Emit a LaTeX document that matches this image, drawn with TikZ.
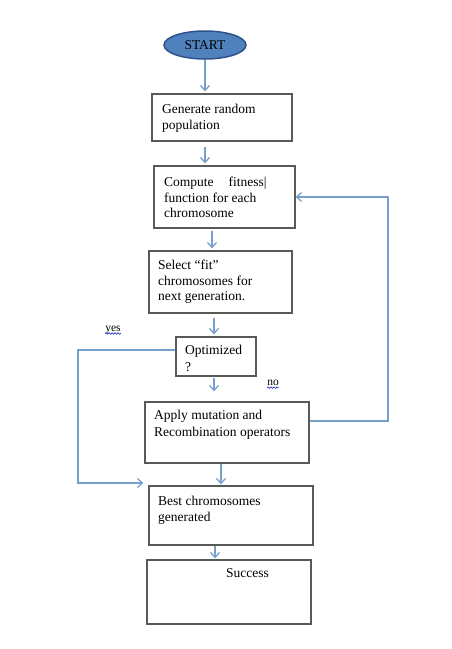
\documentclass[tikz,border=0pt]{standalone}
\usepackage{fontspec}
\setmainfont{Liberation Serif}
\usetikzlibrary{arrows.meta,shapes.geometric,decorations.pathmorphing}
\definecolor{arrowblue}{RGB}{120,160,205}
\definecolor{spellblue}{RGB}{50,60,200}
\definecolor{startfill}{RGB}{79,129,189}
\definecolor{startdraw}{RGB}{47,82,143}
\tikzset{
  box/.style={draw=black!65, line width=1.2pt, rectangle, inner sep=0pt},
  txt/.style={anchor=north west, align=left, inner sep=0pt, font=\fontsize{13.5}{15.5}\selectfont},
  arr/.style={draw=arrowblue, line width=1.3pt, -{Straight Barb[length=5pt,width=9pt]}},
  lbl/.style={inner sep=0pt, font=\fontsize{11.5}{12}\selectfont},
  squig/.style={draw=spellblue, line width=0.7pt, decorate, decoration={snake, amplitude=0.8pt, segment length=3pt}}
}
\begin{document}
\begin{tikzpicture}[x=1pt,y=-1pt]
\useasboundingbox (0,0) rectangle (451,649);
% start
\node[ellipse, draw=startdraw, fill=startfill, line width=1.5pt, minimum width=82pt, minimum height=28pt, inner sep=0pt, font=\fontsize{13.5}{15}\selectfont] (start) at (205,45) {START};
% boxes
\node[box, minimum width=140pt, minimum height=47pt] (gen) at (222,117.5) {};
\node[box, minimum width=141pt, minimum height=62pt] (comp) at (224.5,197) {};
\node[box, minimum width=143pt, minimum height=62pt] (sel) at (220.5,282) {};
\node[box, minimum width=80pt, minimum height=39pt] (opt) at (216,356.5) {};
\node[box, minimum width=164pt, minimum height=61pt] (app) at (227,432.5) {};
\node[box, minimum width=164pt, minimum height=59pt] (best) at (231,515.5) {};
\node[box, minimum width=164pt, minimum height=64pt] (succ) at (229,592) {};
% texts
\node[txt] (tgen) at (162,104) {Generate random\\population};
\node[txt] (tcomp) at (164,177) {Compute\hspace{1.1em}fitness|\\function for each\\chromosome};
\node[txt] (tsel) at (158,260) {Select “fit”\\chromosomes for\\next generation.};
\node[txt, font=\fontsize{13.5}{17}\selectfont] (topt) at (185,345) {Optimized\\?};
\node[txt, font=\fontsize{13.5}{17}\selectfont] (tapp) at (154,410) {Apply mutation and\\Recombination operators};
\node[txt] (tbest) at (158,496) {Best chromosomes\\generated};
\node[txt] (tsucc) at (226,568) {Success};
% x positions of vertical arrows
\coordinate (x3) at (212,0);
\coordinate (x4) at (214,0);
\coordinate (x6) at (221,0);
\coordinate (x7) at (215,0);
% vertical arrows
\draw[arr, shorten >=2pt] (start.south) -- (start.south |- gen.north);
\draw[arr, shorten <=5pt, shorten >=2pt] (gen.south -| start.south) -- (comp.north -| start.south);
\draw[arr, shorten <=2pt, shorten >=2pt] (comp.south -| x3) -- (sel.north -| x3);
\draw[arr, shorten <=4pt, shorten >=2pt] (sel.south -| x4) -- (opt.north -| x4);
\draw[arr, shorten <=1pt, shorten >=10pt] (opt.south -| x4) -- (app.north -| x4);
\draw[arr, shorten >=1pt] (app.south -| x6) -- (best.north -| x6);
\draw[arr, shorten >=1pt] (best.south -| x7) -- (succ.north -| x7);
% feedback loop
\coordinate (fbR) at (388,421);
\coordinate (fbT) at (388,197);
\draw[arr] (app.east |- fbR) -- (fbR) -- (fbT) -- (comp.east |- fbT);
% yes branch
\coordinate (yL) at (78,350);
\coordinate (yB) at (78,483);
\draw[arr, shorten >=5pt] (opt.west |- yL) -- (yL) -- (yB) -- (best.west |- yB);
% labels
\node[lbl] (yes) at (113,330) {yes};
\draw[squig] ([yshift=-2pt]yes.base west) -- ([yshift=-2pt]yes.base east);
\node[lbl] (no) at (273,383) {no};
\draw[squig] ([yshift=-2pt]no.base west) -- ([yshift=-2pt]no.base east);
\end{tikzpicture}
\end{document}
